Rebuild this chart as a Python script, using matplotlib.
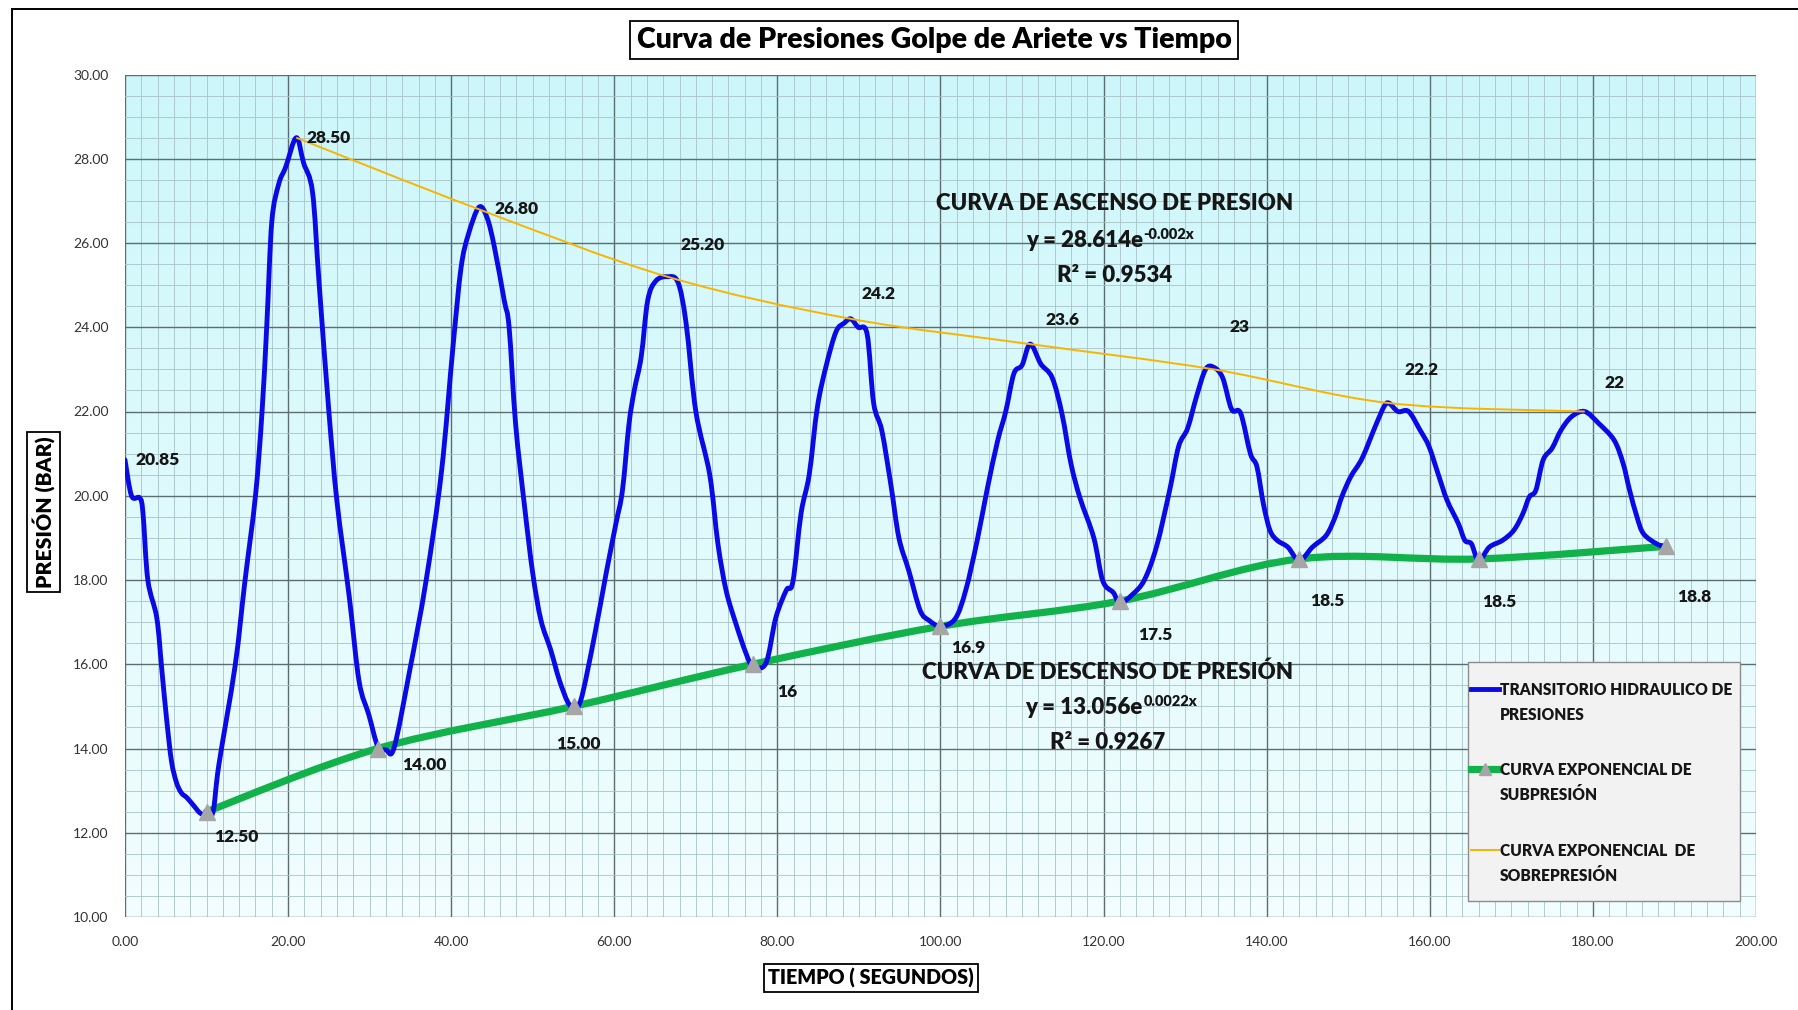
import numpy as np
import matplotlib
matplotlib.use("Agg")
import matplotlib.pyplot as plt
from matplotlib.path import Path
from matplotlib.patches import PathPatch, Rectangle
from matplotlib.lines import Line2D

plt.rcParams['font.family'] = ['Lato', 'DejaVu Sans']

# ---- data ---------------------------------------------------------------
# hydraulic transient (time in s, pressure in bar)
tiempo = [0, 0.8, 1.8, 2.2, 2.8, 3.9, 4.5, 5.1, 5.7, 6.3, 6.9, 7.6, 8.4, 9.2, 10.0,
          10.8, 11.5, 13.5, 14.7, 16.0, 16.8, 17.4, 18.0, 18.85, 19.7, 21.0, 21.9,
          23.0, 23.8, 25.0, 26.0, 27.5, 28.7, 29.9, 31.0, 32.0, 33.0, 34.9, 36.9,
          38.8, 40.2, 41.2, 42.1, 43.4, 44.4, 45.3, 46.5, 47.1, 47.9, 49.0, 50.0,
          51.0, 52.2, 53.25, 54.3, 55.0, 55.9, 57.5, 59.0, 60.2, 61.0, 61.8, 62.45,
          63.3, 64.1, 65.1, 66.5, 67.8, 68.8, 70.0, 71.7, 72.7, 73.7, 74.9, 76.15,
          77.0, 78.6, 79.8, 81.1, 81.9, 82.9, 83.9, 84.9, 86.0, 87.2, 88.2, 89.0,
          89.9, 91.0, 91.8, 92.8, 93.9, 94.9, 96.1, 97.5, 98.6, 100.0, 101.8, 103.1,
          104.5, 105.7, 107.0, 108.0, 109.0, 110.0, 111.0, 112.3, 113.7, 114.9,
          116.0, 117.1, 118.8, 119.9, 121.2, 122.0, 123.5, 125.0, 126.5, 128.1,
          129.2, 130.3, 131.4, 132.5, 133.5, 134.6, 135.7, 136.8, 138.0, 138.8,
          139.6, 140.4, 141.3, 142.6, 144.0, 145.6, 147.3, 148.4, 149.2, 150.3,
          151.7, 153.3, 154.4, 155.0, 156.1, 157.4, 158.8, 159.9, 161.0, 162.1,
          163.5, 164.3, 165.1, 166.0, 167.3, 168.9, 170.3, 171.4, 172.2, 173.0,
          173.9, 175.0, 176.1, 177.4, 179.0, 180.7, 182.6, 183.7, 184.5, 185.4,
          186.2, 187.8, 189.0]
presion = [20.85, 20.0, 19.95, 19.6, 18.0, 17.1, 15.9, 14.7, 13.7, 13.2, 12.95, 12.83,
           12.65, 12.47, 12.42, 12.5, 13.6, 15.96, 17.96, 20.0, 21.98, 24.1, 26.5,
           27.4, 27.8, 28.5, 27.9, 27.2, 25.05, 22.0, 19.85, 17.6, 15.6, 14.8, 14.05,
           13.97, 14.02, 15.84, 17.96, 20.56, 23.5, 25.4, 26.2, 26.85, 26.6, 25.9,
           24.64, 24.0, 21.7, 19.74, 18.16, 17.05, 16.34, 15.63, 15.1, 15.0, 15.15,
           16.6, 18.16, 19.34, 20.13, 21.7, 22.5, 23.3, 24.64, 25.1, 25.2, 25.07,
           24.1, 22.0, 20.5, 18.87, 17.76, 16.97, 16.26, 15.95, 16.03, 17.1, 17.76,
           17.96, 19.58, 20.5, 22.1, 23.1, 23.9, 24.1, 24.2, 24.0, 23.84, 22.2, 21.55,
           20.28, 19.0, 18.23, 17.28, 17.04, 16.9, 17.08, 17.76, 18.94, 20.13, 21.3,
           22.0, 22.9, 23.1, 23.6, 23.13, 22.8, 21.94, 20.76, 19.95, 19.0, 17.98,
           17.7, 17.45, 17.65, 18.0, 18.8, 20.13, 21.17, 21.6, 22.36, 23.0, 23.05,
           22.8, 22.05, 21.96, 21.0, 20.69, 19.8, 19.18, 18.94, 18.78, 18.46, 18.78,
           19.06, 19.5, 19.97, 20.45, 20.89, 21.64, 22.12, 22.2, 22.0, 22.0, 21.56,
           21.17, 20.53, 19.9, 19.34, 18.94, 18.86, 18.46, 18.78, 18.94, 19.18,
           19.57, 19.97, 20.13, 20.85, 21.13, 21.56, 21.88, 22.0, 21.72, 21.32,
           20.77, 20.13, 19.5, 19.1, 18.86, 18.78]

# under-pressure envelope (minima)
t_sub = [10, 31, 55, 77, 100, 122, 144, 166, 189]
p_sub = [12.5, 14.0, 15.0, 16.0, 16.9, 17.5, 18.5, 18.5, 18.8]
lab_sub = ["12.50", "14.00", "15.00", "16", "16.9", "17.5", "18.5", "18.5", "18.8"]

# over-pressure envelope (maxima)
t_sobre = [21, 43.4, 66.5, 89, 111, 133.5, 155, 179]
p_sobre = [28.5, 26.8, 25.2, 24.2, 23.6, 23.0, 22.2, 22.0]
lab_sobre = ["28.50", "26.80", "25.20", "24.2", "23.6", "23", "22.2", "22"]

lab_inicio = "20.85"

x_ticks = [0, 20, 40, 60, 80, 100, 120, 140, 160, 180, 200]
y_ticks = [10, 12, 14, 16, 18, 20, 22, 24, 26, 28, 30]

legend_labels = ["TRANSITORIO HIDRAULICO DE\nPRESIONES",
                 "CURVA EXPONENCIAL DE\nSUBPRESIÓN",
                 "CURVA EXPONENCIAL  DE\nSOBREPRESIÓN"]

# label offsets in pixels (dx, dy) relative to each marked point
off_sub = [(8, -25), (24, -17), (-17, -38), (24, -28), (11, -22), (18, -34),
           (11, -42), (3, -43), (11, -51)]
off_sobre = [(10, 0), (16, 0), (13, 32), (11, 25), (15, 24), (16, 42), (15, 33), (20, 29)]

# ---- styles -------------------------------------------------------------
C_BLUE = "#0a0ae6"
C_GREEN = "#12b24a"
C_GOLD = "#f7b500"
C_TRI = "#a6a6a6"
TXT = "#161616"
HEAVY = "heavy"


def smooth_path(x, y):
    """Cubic Bezier path passing through all points (Catmull-Rom tangents)."""
    pts = np.column_stack([x, y]).astype(float)
    n = len(pts)
    verts = [pts[0]]
    codes = [Path.MOVETO]
    for i in range(n - 1):
        p0 = pts[i - 1] if i > 0 else pts[i]
        p1 = pts[i]
        p2 = pts[i + 1]
        p3 = pts[i + 2] if i + 2 < n else pts[i + 1]
        verts += [p1 + (p2 - p0) / 6.0, p2 - (p3 - p1) / 6.0, p2]
        codes += [Path.CURVE4] * 3
    return Path(verts, codes)


W, H = 1798, 1010
fig = plt.figure(figsize=(W / 100, H / 100), dpi=100)
fig.patch.set_facecolor("white")

ax = fig.add_axes([125 / W, 1 - 917 / H, (1756 - 125) / W, (917 - 74.5) / H])
ax.set_xlim(0, 200)
ax.set_ylim(10, 30)

# background gradient of the plotting area
grad = np.linspace(0, 1, 256)[:, None]
top = np.array([0.80, 0.968, 0.982])
bot = np.array([0.95, 0.993, 0.997])
img = top[None, None, :] * (1 - grad[..., None]) + bot[None, None, :] * grad[..., None]
ax.imshow(img, extent=[0, 1, 0, 1], transform=ax.transAxes, aspect="auto",
          zorder=0, interpolation="bilinear")
ax.set_axisbelow(True)

ax.set_xticks(x_ticks)
ax.set_yticks(y_ticks)
ax.set_xticks(np.arange(0, 201, 2), minor=True)
ax.set_yticks(np.arange(10, 30.01, 0.5), minor=True)
ax.set_xticklabels([f"{v:.2f}" for v in x_ticks])
ax.set_yticklabels([f"{v:.2f}" for v in y_ticks])
ax.grid(which="major", color="#5c6e70", linewidth=1.0)
ax.grid(which="minor", color="#a8c3c8", linewidth=0.6)
ax.tick_params(which="both", length=0)
ax.tick_params(axis="x", pad=14, labelsize=10, labelcolor="#333333")
ax.tick_params(axis="y", pad=12, labelsize=10, labelcolor="#333333")
for s in ax.spines.values():
    s.set_visible(False)

# series
ax.add_patch(PathPatch(smooth_path(tiempo, presion), fill=False, edgecolor=C_BLUE,
                       linewidth=3.5, capstyle="round", joinstyle="round", zorder=4))
ax.add_patch(PathPatch(smooth_path(t_sub, p_sub), fill=False, edgecolor=C_GREEN,
                       linewidth=5.2, capstyle="round", zorder=3))
ax.plot(t_sub, p_sub, linestyle="none", marker="^", markersize=11,
        color=C_TRI, zorder=5)
ax.add_patch(PathPatch(smooth_path(t_sobre, p_sobre), fill=False, edgecolor=C_GOLD,
                       linewidth=1.4, zorder=5))

# value labels
lbl_kw = dict(textcoords="offset pixels", fontsize=12.5, fontweight=HEAVY,
              color=TXT, ha="left", va="center", zorder=6)
for t, p, s, o in zip(t_sub, p_sub, lab_sub, off_sub):
    ax.annotate(s, (t, p), xytext=o, **lbl_kw)
for t, p, s, o in zip(t_sobre, p_sobre, lab_sobre, off_sobre):
    ax.annotate(s, (t, p), xytext=o, **lbl_kw)
ax.annotate(lab_inicio, (tiempo[0], presion[0]), xytext=(11, 0), **lbl_kw)

# regression notes
note_kw = dict(va="center", fontweight=HEAVY, color=TXT, zorder=6, fontsize=16)
ax.text(121.4, 26.93, "CURVA DE ASCENSO DE PRESION", ha="center", **note_kw)
eq1 = ax.text(124.8, 26.05, "y = 28.614e", ha="right", **note_kw)
ax.annotate("-0.002x", xy=(1.0, 1.0), xycoords=eq1, xytext=(1, 2),
            textcoords="offset pixels", ha="left", va="top", fontsize=10.5,
            fontweight=HEAVY, color=TXT, zorder=6)
ax.text(121.4, 25.24, "R² = 0.9534", ha="center", **note_kw)
ax.text(120.5, 15.80, "CURVA DE DESCENSO DE PRESIÓN", ha="center", **note_kw)
eq2 = ax.text(124.8, 14.98, "y = 13.056e", ha="right", **note_kw)
ax.annotate("0.0022x", xy=(1.0, 1.0), xycoords=eq2, xytext=(1, 2),
            textcoords="offset pixels", ha="left", va="top", fontsize=10.5,
            fontweight=HEAVY, color=TXT, zorder=6)
ax.text(120.5, 14.14, "R² = 0.9267", ha="center", **note_kw)

# legend panel
lx0, lx1, ly0, ly1 = 1468, 1740, 662, 901
fig.add_artist(Rectangle((lx0 / W, 1 - ly1 / H), (lx1 - lx0) / W, (ly1 - ly0) / H,
                         transform=fig.transFigure, facecolor="#f2f2f2",
                         edgecolor="#8c8c8c", linewidth=1.0, zorder=10))
row_y = [689, 769, 850]
styles = [dict(color=C_BLUE, linewidth=3.5),
          dict(color=C_GREEN, linewidth=5.2),
          dict(color=C_GOLD, linewidth=1.4)]
for yy, lab, st in zip(row_y, legend_labels, styles):
    fy = 1 - yy / H
    fig.add_artist(Line2D([1471 / W, 1499 / W], [fy, fy], transform=fig.transFigure,
                          zorder=11, **st))
    fig.text(1500 / W, fy + 7 / H, lab, ha="left", va="top", fontsize=11.2,
             fontweight=HEAVY, color=TXT, linespacing=1.72, zorder=11)
fig.add_artist(Line2D([1485 / W], [1 - row_y[1] / H], transform=fig.transFigure,
                      marker="^", markersize=9, color=C_TRI, linestyle="none", zorder=12))

# titles
box = dict(boxstyle="square,pad=0.22", facecolor="white", edgecolor="black", linewidth=1.3)
fig.text(934 / W, 1 - 40 / H, "Curva de Presiones Golpe de Ariete vs Tiempo",
         ha="center", va="center", fontsize=20.5, fontweight=HEAVY, color="black", bbox=box)
fig.text(871 / W, 1 - 978 / H, "TIEMPO ( SEGUNDOS)", ha="center", va="center",
         fontsize=14.2, fontweight=HEAVY, color="black", bbox=box)
fig.text(43.6 / W, 1 - 512 / H, "PRESIÓN (BAR)", ha="center", va="center", rotation=90,
         fontsize=15.2, fontweight=HEAVY, color="black", bbox=box)

# outer chart frame
fx = 11.5 / W
fyt = 1 - 9 / H
fig.add_artist(Line2D([fx, 1.0], [fyt, fyt], transform=fig.transFigure, color="black", linewidth=1.4))
fig.add_artist(Line2D([fx, fx], [0, fyt], transform=fig.transFigure, color="black", linewidth=1.4))

fig.savefig("out.png", dpi=100)
